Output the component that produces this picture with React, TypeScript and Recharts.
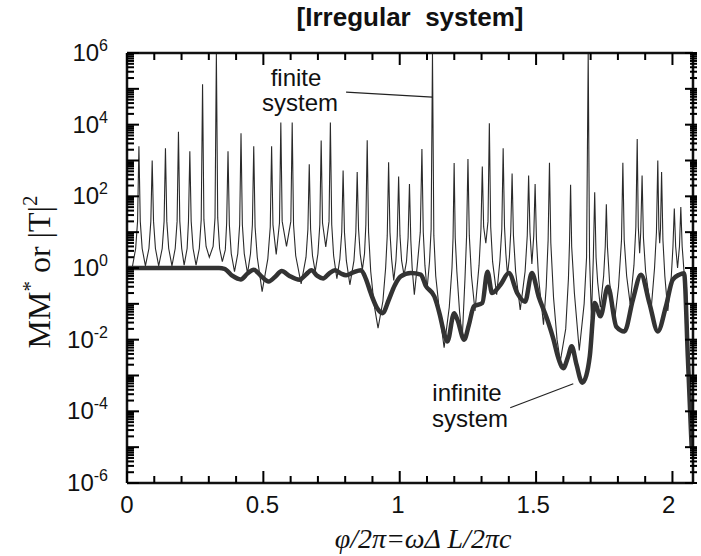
import React from 'react';
import { LineChart, Line, XAxis, YAxis, ReferenceLine } from 'recharts';

// [x = phi/2pi, MM* or |T|^2]
const finiteSystem: [number, number][] = [
  [0.0, 1.0], [0.02, 1.1],
  [0.032, 3.5], [0.039, 20], [0.044, 2500], [0.049, 20], [0.056, 3.5],
  [0.068, 1.15],
  [0.081, 3.5], [0.088, 20], [0.093, 1000], [0.098, 20], [0.105, 3.5],
  [0.117, 1.15],
  [0.13, 3.5], [0.137, 20], [0.142, 2200], [0.147, 20], [0.154, 3.5],
  [0.166, 1.15],
  [0.178, 3.5], [0.185, 20], [0.19, 6300], [0.195, 20], [0.202, 3.5],
  [0.211, 1.2],
  [0.222, 3.5], [0.227, 20], [0.232, 1800], [0.237, 20], [0.244, 3.5],
  [0.255, 1.2],
  [0.267, 3.5], [0.274, 22], [0.279, 1.35e5], [0.284, 22], [0.292, 4],
  [0.304, 2.0],
  [0.318, 4], [0.325, 25], [0.33, 1e6], [0.335, 25], [0.342, 3.5],
  [0.352, 1.5],
  [0.363, 3.2], [0.368, 18], [0.373, 1800], [0.378, 16], [0.385, 2.5],
  [0.397, 0.79],
  [0.409, 2.5], [0.416, 16], [0.421, 5800], [0.426, 16], [0.433, 2.5],
  [0.445, 0.71],
  [0.456, 2.5], [0.463, 16], [0.468, 2500], [0.473, 14], [0.481, 2],
  [0.499, 0.22],
  [0.52, 1.8], [0.529, 14], [0.534, 2500], [0.539, 16],
  [0.551, 2.4],
  [0.563, 18], [0.568, 1.15e4], [0.573, 20],
  [0.589, 4.0],
  [0.605, 20], [0.61, 1.15e4], [0.615, 16], [0.623, 2.2],
  [0.643, 0.36],
  [0.661, 2.0], [0.668, 12], [0.673, 780], [0.678, 12], [0.685, 2.2],
  [0.695, 0.79],
  [0.705, 2.5], [0.712, 16], [0.717, 3600], [0.722, 18],
  [0.734, 3.9],
  [0.746, 20], [0.751, 1.15e4], [0.756, 16], [0.763, 2.2],
  [0.775, 0.5],
  [0.786, 1.8], [0.793, 10], [0.798, 525], [0.803, 10], [0.81, 1.6],
  [0.823, 0.34],
  [0.838, 1.6], [0.845, 10], [0.85, 480], [0.855, 12], [0.861, 2.5],
  [0.869, 0.89],
  [0.877, 2.5], [0.882, 16], [0.887, 3700], [0.892, 10], [0.9, 0.8], [0.912, 0.1],
  [0.927, 0.021],
  [0.945, 0.12], [0.955, 1.0], [0.961, 8], [0.966, 890], [0.971, 10], [0.977, 1.8],
  [0.985, 0.45],
  [0.993, 1.6], [0.998, 8], [1.003, 360], [1.008, 8], [1.014, 1.6],
  [1.023, 0.63],
  [1.032, 1.5], [1.038, 7], [1.043, 220], [1.048, 6], [1.053, 1.0],
  [1.061, 0.18],
  [1.072, 1.2], [1.083, 10], [1.089, 2100], [1.094, 10], [1.1, 1.2],
  [1.108, 0.25],
  [1.117, 1.5], [1.123, 12], [1.128, 1e6], [1.133, 8], [1.14, 0.6], [1.155, 0.05],
  [1.171, 0.006],
  [1.19, 0.08], [1.2, 1.0], [1.204, 7], [1.208, 850], [1.212, 7], [1.218, 0.8], [1.228, 0.06],
  [1.238, 0.011],
  [1.248, 0.5], [1.254, 8], [1.259, 1100], [1.264, 8], [1.272, 0.6],
  [1.285, 0.063],
  [1.3, 1.2], [1.307, 12], [1.312, 680], [1.317, 14],
  [1.325, 4.9],
  [1.333, 20], [1.338, 1.1e4], [1.343, 14], [1.35, 1.5],
  [1.365, 0.18],
  [1.377, 1.6], [1.384, 12], [1.389, 2200], [1.394, 14], [1.399, 2.5],
  [1.405, 0.63],
  [1.412, 2.0], [1.417, 10], [1.422, 430], [1.427, 8], [1.435, 0.8],
  [1.452, 0.068],
  [1.47, 0.8], [1.478, 8], [1.483, 380], [1.488, 10],
  [1.495, 1.3],
  [1.502, 8], [1.507, 220], [1.512, 6], [1.52, 0.5],
  [1.538, 0.026],
  [1.548, 0.3], [1.555, 6], [1.56, 870], [1.565, 5], [1.575, 0.15], [1.588, 0.01],
  [1.6, 0.0025],
  [1.62, 0.02], [1.63, 0.5], [1.634, 5], [1.638, 210], [1.642, 4], [1.652, 0.2],
  [1.67, 0.005],
  [1.688, 0.1], [1.697, 2], [1.703, 1e6], [1.708, 2],
  [1.715, 0.04],
  [1.722, 2], [1.727, 130], [1.732, 2], [1.738, 0.4],
  [1.748, 0.08],
  [1.76, 0.6], [1.766, 4], [1.77, 60], [1.774, 4], [1.782, 0.4],
  [1.8, 0.032],
  [1.815, 0.3], [1.826, 6], [1.831, 870], [1.836, 6], [1.845, 0.6],
  [1.858, 0.1],
  [1.872, 1.2], [1.879, 14], [1.884, 4000], [1.888, 14],
  [1.893, 2.6],
  [1.897, 10], [1.902, 380], [1.907, 7], [1.915, 0.8],
  [1.935, 0.063],
  [1.948, 1.0], [1.955, 10], [1.96, 1000], [1.964, 12],
  [1.967, 4.9],
  [1.97, 12], [1.974, 480], [1.979, 6], [1.986, 0.6],
  [1.997, 0.063],
  [2.01, 0.6], [2.016, 4], [2.021, 46], [2.026, 4],
  [2.033, 1.0],
  [2.04, 4], [2.045, 50], [2.05, 4], [2.058, 0.6],
  [2.066, 0.3], [2.074, 0.003], [2.085, 1e-5],
];

const infiniteSystem: [number, number][] = [
  [0.0, 1.0], [0.34, 1.0], [0.36, 0.95], [0.39, 0.6], [0.42, 0.48], [0.445, 0.7],
  [0.468, 0.89], [0.495, 0.6], [0.523, 0.42], [0.55, 0.6], [0.571, 0.83], [0.6, 0.6],
  [0.637, 0.47], [0.66, 0.65], [0.681, 0.87], [0.703, 0.6], [0.724, 0.51], [0.746, 0.7],
  [0.768, 0.87], [0.79, 0.7], [0.809, 0.63], [0.835, 0.75], [0.864, 0.87], [0.882, 0.5],
  [0.9, 0.2], [0.922, 0.08], [0.944, 0.055], [0.966, 0.126], [0.988, 0.32], [1.011, 0.58],
  [1.048, 0.72], [1.085, 0.65], [1.103, 0.32], [1.135, 0.16], [1.155, 0.05], [1.17, 0.016],
  [1.183, 0.0089], [1.208, 0.055], [1.22, 0.036], [1.245, 0.01], [1.262, 0.025],
  [1.281, 0.085], [1.312, 0.105], [1.331, 0.79], [1.348, 0.2], [1.379, 0.34], [1.41, 0.72],
  [1.441, 0.2], [1.47, 0.115], [1.495, 0.72], [1.52, 0.16], [1.55, 0.04], [1.575, 0.01],
  [1.592, 0.0032], [1.611, 0.0016], [1.628, 0.0032], [1.642, 0.0065], [1.66, 0.002],
  [1.681, 0.00063], [1.696, 0.001], [1.709, 0.0035], [1.727, 0.105], [1.748, 0.045],
  [1.776, 0.3], [1.807, 0.023], [1.837, 0.017], [1.868, 0.13], [1.898, 0.65], [1.929, 0.105],
  [1.96, 0.017], [1.99, 0.085], [2.015, 0.47], [2.039, 0.65], [2.057, 0.71], [2.071, 0.0032],
  [2.085, 1e-5],
];

const xTickValues = [0, 0.1, 0.2, 0.3, 0.4, 0.5, 0.6, 0.7, 0.8, 0.9, 1, 1.1, 1.2, 1.3, 1.4, 1.5, 1.6, 1.7, 1.8, 1.9, 2];
const xTickLabels: Record<string, string> = { '0': '0', '0.5': '0.5', '1': '1', '1.5': '1.5', '2': '2' };
const yDecadeExponents = [-6, -5, -4, -3, -2, -1, 0, 1, 2, 3, 4, 5];
const yMinorMultipliers = [1, 2, 3, 4, 5, 6, 7, 8, 9];
const yLabelExponents = [-6, -4, -2, 0, 2, 4, 6];

const X_MIN = 0;
const X_MAX = 2.09;
const Y_MIN = 1e-6;
const Y_MAX = 1e6;
// plot frame (px)
const FRAME_L = 127;
const FRAME_T = 53;
const FRAME_W = 570;
const FRAME_H = 430;
const MAJOR_LEN = 12;
const MINOR_LEN = 7;
const TICK_W = 2;

const SANS = '"Liberation Sans", Arial, Helvetica, sans-serif';
const SERIF = '"Liberation Serif", "Times New Roman", serif';
const INK = '#111';

const finiteData = finiteSystem.map(([x, v]) => ({ x, v }));
const infiniteData = infiniteSystem.map(([x, v]) => ({ x, v }));
const yTicks: number[] = [];
yDecadeExponents.forEach((e) => yMinorMultipliers.forEach((m) => yTicks.push(Number((m * Math.pow(10, e)).toPrecision(6)))));
yTicks.push(Y_MAX);

const isDecade = (v: number) => {
  const l = Math.log10(v);
  return Math.abs(l - Math.round(l)) < 1e-6;
};
const isHalf = (v: number) => Math.abs(v * 2 - Math.round(v * 2)) < 1e-9;

// frame tick marks (axis decoration) as small filled bars, pointing inward on all four sides
const tickPx = (v: number) => FRAME_L + ((v - X_MIN) / (X_MAX - X_MIN)) * FRAME_W;
const tickPy = (v: number) =>
  FRAME_T + ((Math.log10(Y_MAX) - Math.log10(v)) / (Math.log10(Y_MAX) - Math.log10(Y_MIN))) * FRAME_H;
const tickBars: { x: number; y: number; w: number; h: number }[] = [];
xTickValues.forEach((v) => {
  const len = isHalf(v) ? MAJOR_LEN : MINOR_LEN;
  const px = tickPx(v) - TICK_W / 2;
  tickBars.push({ x: px, y: FRAME_T + FRAME_H - len, w: TICK_W, h: len });
  tickBars.push({ x: px, y: FRAME_T, w: TICK_W, h: len });
});
yTicks.forEach((v) => {
  const len = isDecade(v) ? MAJOR_LEN : MINOR_LEN;
  const py = tickPy(v) - TICK_W / 2;
  tickBars.push({ x: FRAME_L, y: py, w: len, h: TICK_W });
  tickBars.push({ x: FRAME_L + FRAME_W - len, y: py, w: len, h: TICK_W });
});

const LeftYTick = (props: any) => {
  const { x, y, payload } = props;
  const v = payload.value;
  const e = Math.round(Math.log10(v));
  if (!isDecade(v) || !yLabelExponents.includes(e)) return <g />;
  return (
    <text x={x - 19} y={y + 8} textAnchor="end" fontSize={24} fontFamily={SANS} fill={INK}>
      10<tspan dy={-10} fontSize={16}>{String(e)}</tspan>
    </text>
  );
};

const BottomXTick = (props: any) => {
  const { x, y, payload } = props;
  const label = xTickLabels[String(payload.value)];
  if (!label) return <g />;
  return (
    <text x={x} y={y + 30} textAnchor="middle" fontSize={24} fontFamily={SANS} fill={INK}>
      {label}
    </text>
  );
};

const axisLineStyle = { stroke: INK, strokeWidth: 2.5 };

export default function App() {
  return (
    <div style={{ position: 'absolute', left: 0, top: 0, width: 701, height: 556, background: '#fff' }}>
      <LineChart width={701} height={556} data={finiteData} margin={{ top: 43, right: 4, bottom: 0, left: 0 }}>
        <XAxis
          xAxisId="b"
          dataKey="x"
          type="number"
          domain={[X_MIN, X_MAX]}
          allowDataOverflow
          ticks={xTickValues}
          interval={0}
          tick={<BottomXTick />}
          tickLine={false}
          tickSize={0}
          tickMargin={0}
          height={73}
          axisLine={axisLineStyle}
        />
        <XAxis
          xAxisId="t"
          orientation="top"
          dataKey="x"
          type="number"
          domain={[X_MIN, X_MAX]}
          allowDataOverflow
          ticks={xTickValues}
          interval={0}
          tick={false}
          tickLine={false}
          height={10}
          axisLine={axisLineStyle}
        />
        <YAxis
          yAxisId="l"
          type="number"
          scale="log"
          domain={[Y_MIN, Y_MAX]}
          allowDataOverflow
          ticks={yTicks}
          interval={0}
          tick={<LeftYTick />}
          tickLine={false}
          tickSize={0}
          tickMargin={0}
          width={127}
          axisLine={axisLineStyle}
        />
        <YAxis
          yAxisId="r"
          orientation="right"
          type="number"
          scale="log"
          domain={[Y_MIN, Y_MAX]}
          allowDataOverflow
          ticks={yTicks}
          interval={0}
          tick={false}
          tickLine={false}
          width={4}
          axisLine={axisLineStyle}
        />
        <Line
          data={finiteData}
          dataKey="v"
          xAxisId="t"
          yAxisId="r"
          stroke="none"
          dot={false}
          activeDot={false}
          isAnimationActive={false}
        />
        <Line
          data={finiteData}
          dataKey="v"
          xAxisId="b"
          yAxisId="l"
          type="linear"
          stroke="#2a2a2a"
          strokeWidth={1.1}
          dot={false}
          activeDot={false}
          isAnimationActive={false}
        />
        <Line
          data={infiniteData}
          dataKey="v"
          xAxisId="b"
          yAxisId="l"
          type="monotone"
          stroke="#333"
          strokeWidth={4.5}
          dot={false}
          activeDot={false}
          isAnimationActive={false}
        />
        <ReferenceLine
          xAxisId="b"
          yAxisId="l"
          segment={[{ x: 0.809, y: 8.1e4 }, { x: 1.128, y: 5.9e4 }]}
          stroke="#222"
          strokeWidth={1.2}
        />
        <ReferenceLine
          xAxisId="b"
          yAxisId="l"
          segment={[{ x: 1.415, y: 1.26e-4 }, { x: 1.648, y: 5.9e-4 }]}
          stroke="#222"
          strokeWidth={1.2}
        />
      </LineChart>
      <svg width={701} height={556} style={{ position: 'absolute', left: 0, top: 0, pointerEvents: 'none' }}>
        {tickBars.map((t, i) => (
          <rect key={i} x={t.x} y={t.y} width={t.w} height={t.h} fill="#000" />
        ))}
        <text x={410} y={26} textAnchor="middle" fontSize={26} fontWeight="bold" fontFamily={SANS} fill={INK} style={{ whiteSpace: 'pre' }}>
          {'[Irregular  system]'}
        </text>
        <text x={296} y={86} textAnchor="middle" fontSize={24} fontFamily={SANS} fill={INK}>finite</text>
        <text x={300} y={111} textAnchor="middle" fontSize={24} fontFamily={SANS} fill={INK}>system</text>
        <text x={467} y={401} textAnchor="middle" fontSize={24} fontFamily={SANS} fill={INK}>infinite</text>
        <text x={470} y={427} textAnchor="middle" fontSize={24} fontFamily={SANS} fill={INK}>system</text>
        <text x={423} y={548} textAnchor="middle" fontSize={28} fontStyle="italic" fontFamily={SERIF} fill={INK} style={{ whiteSpace: 'pre' }}>
          {'φ/2π=ωΔ L/2πc'}
        </text>
        <text transform="translate(50,272) rotate(-90)" textAnchor="middle" fontSize={32} fontFamily={SERIF} fill={INK}>
          MM<tspan dy={-13} fontSize={21}>*</tspan>
          <tspan dy={13}> or |T|</tspan>
          <tspan dy={-13} fontSize={21}>2</tspan>
        </text>
      </svg>
    </div>
  );
}
